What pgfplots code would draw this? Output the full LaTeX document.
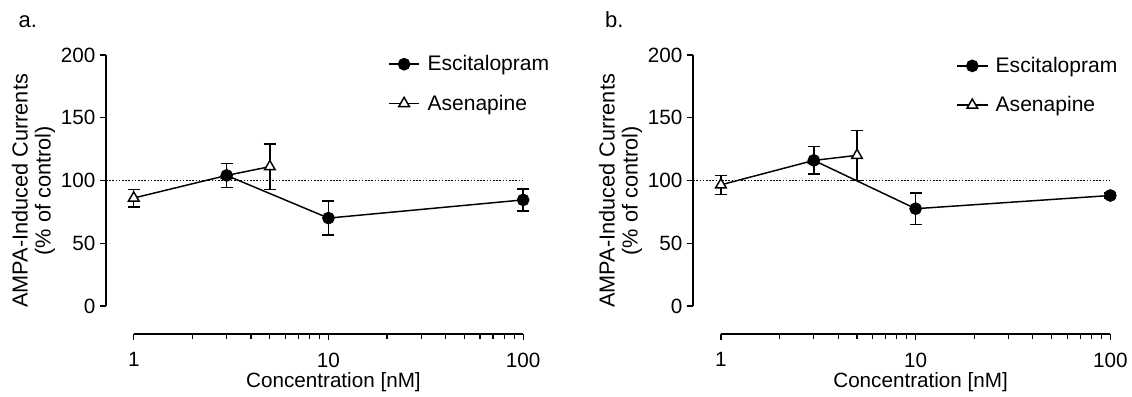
\documentclass[border=0pt]{standalone}
\usepackage{fontspec}
\setmainfont{Liberation Sans}
\usepackage{pgfplots}
\usepackage{pgfplotstable}
\pgfplotsset{compat=1.18}

\pgfplotstableread{
x y e
3 104 9.5
10 70 13.5
100 84.5 8.7
}\escA
\pgfplotstableread{
x y e
1 86 7
3 104 0
5 111 18
}\asenA
\pgfplotstableread{
x y e
3 116 11
10 77.5 12.5
100 88 2
}\escB
\pgfplotstableread{
x y e
1 96.5 7.6
3 116 0
5 120 20
}\asenB

\pgfplotsset{legend image code/.code={%
  \draw[mark repeat=2,mark phase=2] plot coordinates {(0pt,0pt) (11.5pt,0pt) (23pt,0pt)};}}

\pgfplotsset{every axis/.append style={
    scale only axis, width=313pt, height=209.25pt,
    xmin=0.72, xmax=100, ymin=-22.3, ymax=200,
    axis lines*=left, axis line style={draw=none},
    clip=false,
    xtick={1,10,100}, xticklabels={1,10,100},
    minor xtick={2,3,4,5,6,7,8,9,20,30,40,50,60,70,80,90},
    ytick={0,50,100,150,200},
    tick align=outside,
    major tick length=4.5pt, minor tick length=3.8pt,
    every tick/.style={black, line width=0.9pt},
    every minor tick/.style={black, line width=0.9pt},
    tick label style={font=\fontsize{15.5}{18}\selectfont},
    xticklabel style={yshift=-6pt},
    label style={font=\fontsize{15.5}{17.25}\selectfont},
    ylabel style={font=\fontsize{16.3}{17.25}\selectfont},
    legend style={draw=none, fill=none, inner sep=0pt, row sep=13.5pt, column sep=4pt,
      font=\fontsize{15.8}{17.5}\selectfont, anchor=north west,
      nodes={inner sep=1.5pt}},
    legend cell align=left,
  }}

\begin{document}
\begin{tikzpicture}
\path (0,0) rectangle (849pt,-297pt);
\node[anchor=base west, font=\fontsize{16.5}{18}\selectfont] at (10.5pt,-21pt) {a.};
\node[anchor=base west, font=\fontsize{16.5}{18}\selectfont] at (450.5pt,-21pt) {b.};

\begin{semilogxaxis}[at={(79.5pt,-250.5pt)}, anchor=south west,
  /pgf/number format/assume math mode=true,
  xlabel={Concentration [nM]},
  ylabel={AMPA-Induced Currents\\(\% of control)},
  xlabel style={at={(axis cs:10,-22.3)}, anchor=base, yshift=-40.5pt, xshift=3.75pt},
  ylabel style={at={(rel axis cs:0,0.5125)}, anchor=center, yshift=54.4pt, align=center},
  legend style={at={(rel axis cs:0.6755,1.006)}},
  reverse legend]
  \addplot[black, line width=1pt, dash pattern=on 1.2pt off 1.2pt, forget plot] coordinates {(0.72,100) (100,100)};
  \addplot[black, line width=1.1pt, mark=triangle*, mark size=4.6pt, mark options={fill=white},
    error bars/.cd, y dir=both, y explicit, error bar style={line width=1.1pt},
    error mark options={rotate=90, mark size=4.5pt, line width=1.1pt}]
    table[x=x, y=y, y error=e] {\asenA};
  \addlegendentry{Asenapine}
  \addplot[black, line width=1.1pt, mark=*, mark size=4.2pt,
    error bars/.cd, y dir=both, y explicit, error bar style={line width=1.1pt},
    error mark options={rotate=90, mark size=4.5pt, line width=1.1pt}]
    table[x=x, y=y, y error=e] {\escA};
  \addlegendentry{Escitalopram}
  \draw[line width=1.1pt] (axis cs:0.72,0) -- (axis cs:0.72,200);
  \draw[line width=1.1pt] (axis cs:1,-22.3) -- (axis cs:100,-22.3);
\end{semilogxaxis}

\begin{semilogxaxis}[at={(520pt,-250.5pt)}, anchor=south west,
  /pgf/number format/assume math mode=true,
  xlabel={Concentration [nM]},
  ylabel={AMPA-Induced Currents\\(\% of control)},
  xlabel style={at={(axis cs:10,-22.3)}, anchor=base, yshift=-40.5pt, xshift=3.75pt},
  ylabel style={at={(rel axis cs:0,0.5125)}, anchor=center, yshift=54.4pt, align=center},
  legend style={at={(rel axis cs:0.630,1.0)}},
  reverse legend]
  \addplot[black, line width=1pt, dash pattern=on 1.2pt off 1.2pt, forget plot] coordinates {(0.72,100) (100,100)};
  \addplot[black, line width=1.1pt, mark=triangle*, mark size=4.6pt, mark options={fill=white},
    error bars/.cd, y dir=both, y explicit, error bar style={line width=1.1pt},
    error mark options={rotate=90, mark size=4.5pt, line width=1.1pt}]
    table[x=x, y=y, y error=e] {\asenB};
  \addlegendentry{Asenapine}
  \addplot[black, line width=1.1pt, mark=*, mark size=4.2pt,
    error bars/.cd, y dir=both, y explicit, error bar style={line width=1.1pt},
    error mark options={rotate=90, mark size=4.5pt, line width=1.1pt}]
    table[x=x, y=y, y error=e] {\escB};
  \addlegendentry{Escitalopram}
  \draw[line width=1.1pt] (axis cs:0.72,0) -- (axis cs:0.72,200);
  \draw[line width=1.1pt] (axis cs:1,-22.3) -- (axis cs:100,-22.3);
\end{semilogxaxis}
\end{tikzpicture}
\end{document}
